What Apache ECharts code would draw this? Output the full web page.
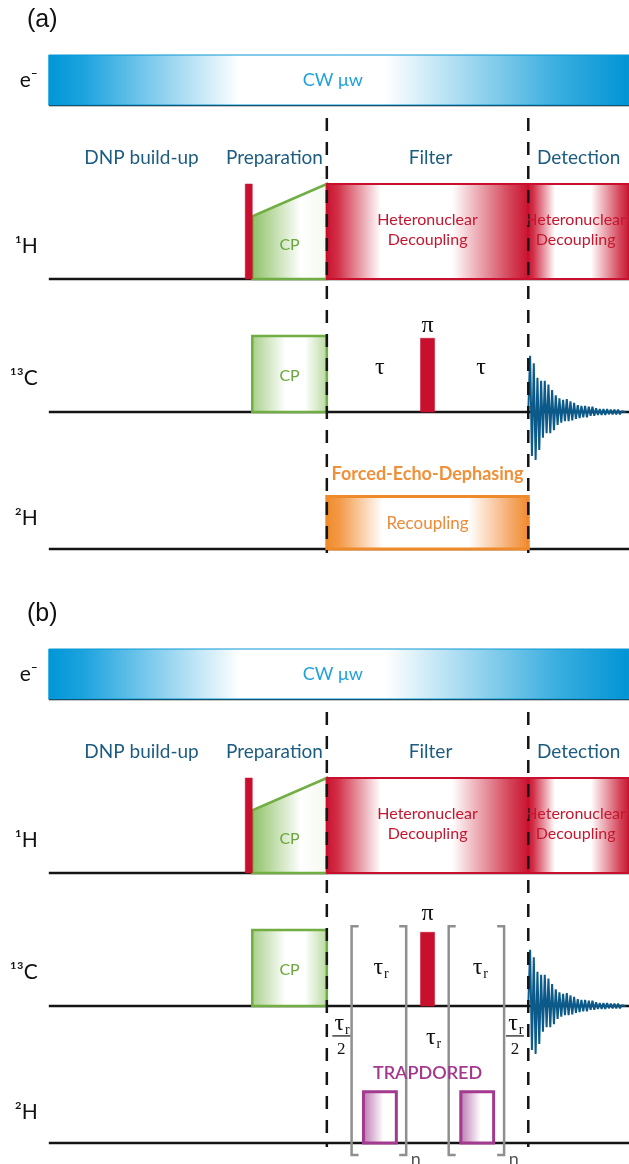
<!DOCTYPE html>
<html>
<head>
<meta charset="utf-8">
<title>DNP pulse sequences with deuterium filters</title>
<script src="https://cdn.jsdelivr.net/npm/echarts@6.0.0/dist/echarts.min.js"></script>
<style>
  html, body { margin: 0; padding: 0; background: #ffffff; }
  #chart { width: 629px; height: 1164px; }
</style>
</head>
<body>
<div id="chart"></div>
<script>
// ---------- sequence data (time in arbitrary units; the filter block runs 0 -> 100) ----------
const PANEL_NAMES = ['(a)', '(b)'];
const CHANNEL_NAMES = ['e\u207B', '\u00B9H', '\u00B9\u00B3C', '\u00B2H'];
const PHASE_NAMES = ['DNP build-up', 'Preparation', 'Filter', 'Detection'];
const PHASE_LABEL_TIMES = [-92, -26, 51.5, 125];
const PHASE_BOUNDARIES = [0, 100];
const SEQUENCE_SPAN = [-138, 150];

// e- : continuous-wave microwave irradiation
const MW_SPAN = [-138, 150];
const MW_LABEL = 'CW \u03BCw';

// 1H : excitation pulse, ramped CP contact, heteronuclear decoupling
const H1_EXCITATION = [-40.5, -37, 1.0];            // start, end, amplitude
const H1_CP_RAMP = [-37, 0, 0.66, 1.0];              // start, end, amplitude at start, amplitude at end
const H1_DECOUPLING = [[0, 100], [100, 150]];
const H1_DECOUPLING_AMP = 1.0;
const DEC_LABEL = 'Heteronuclear\nDecoupling';
const CP_LABEL = 'CP';

// 13C : CP contact, refocusing pi pulse, detected FID
const C13_CP = [-37, 0, 1.0];
const C13_PI = [46.5, 53.5, 0.97];
const FID_START = 100;
const FID_DWELL = 0.91;
const FID_POINTS = [
  0, 0.74, -0.58, 0.64, -0.63, 0.45, -0.50, 0.41, -0.34, 0.41, -0.28, 0.36, -0.28,
  0.29, -0.24, 0.22, -0.17, 0.18, -0.14, 0.16, -0.12, 0.17, -0.12, 0.14, -0.11,
  0.12, -0.09, 0.09, -0.08, 0.08, -0.07, 0.08, -0.07, 0.07, -0.05, 0.07, -0.05,
  0.05, -0.04, 0.04, -0.04, 0.04, -0.04, 0.04, -0.03, 0.03, -0.03, 0.03, -0.03,
  0.03, -0.03, 0.01, -0.01, 0
];

// 2H : (a) forced-echo-dephasing recoupling block, (b) TRAPDORED pulses inside rotor-period loops
const H2_RECOUPLING = [0, 100, 0.97];
const FED_LABEL = 'Forced-Echo-Dephasing';
const REC_LABEL = 'Recoupling';
const H2_TRAPDORED = [[18.2, 34.5], [66.5, 82.8]];
const H2_TRAPDORED_AMP = 0.95;
const TRAP_LABEL = 'TRAPDORED';
const ROTOR_LOOPS = [[12.3, 39.4], [60.5, 88.0]];

// ---------- layout ----------
const PANEL_TOP = [40, 634];
const PANEL_HEIGHT = 520;
const CH_BASE = [455, 281, 148, 11];   // baseline of each channel, in panel units
const CH_SCALE = [50, 95, 76, 54];     // height of a full-amplitude block
const DASH_RANGE = [442, 7];
const SANS = 'Lato, "Open Sans", "DejaVu Sans", sans-serif';
const SERIF = '"Liberation Serif", "DejaVu Serif", serif';

const lv = (ch, amp) => CH_BASE[ch] + amp * CH_SCALE[ch];
const grad = stops => new echarts.graphic.LinearGradient(0, 0, 1, 0,
  stops.map(([offset, color]) => ({ offset, color })));

const BOX_STYLES = [
  { fill: () => grad([[0, '#0096d8'], [0.06, '#1ca3de'], [0.33, '#ffffff'], [0.58, '#ffffff'], [0.88, '#38addf'], [1, '#0094d6']]), stroke: '#0b98d6', lineWidth: 1 },
  { fill: () => '#c8102e', stroke: '#c8102e', lineWidth: 0.5 },
  { fill: () => grad([[0, '#8cc063'], [0.65, '#ffffff'], [1, '#f3f9ee']]), stroke: '#70ad42', lineWidth: 2.5 },
  { fill: () => grad([[0, '#a6cf88'], [0.45, '#ffffff'], [0.7, '#ffffff'], [1, '#b5d89b']]), stroke: '#70ad42', lineWidth: 2.5 },
  { fill: () => grad([[0, '#c8102e'], [0.06, '#d23048'], [0.27, '#ffffff'], [0.62, '#ffffff'], [0.9, '#d4475b'], [1, '#c8102e']]), stroke: '#c8102e', lineWidth: 2 },
  { fill: () => grad([[0, '#f08a2a'], [0.07, '#f39a48'], [0.28, '#ffffff'], [0.7, '#ffffff'], [0.92, '#f3a561'], [1, '#f08a2a']]), stroke: '#ef8a2b', lineWidth: 3 },
  { fill: () => grad([[0, '#b872ad'], [0.6, '#ffffff'], [1, '#ffffff']]), stroke: '#a23a8f', lineWidth: 3 }
];
const K = { mw: 0, pulse: 1, cpH: 2, cpC: 3, dec: 4, rec: 5, trap: 6 };

function boxData(panel) {
  const d = [];
  d.push([MW_SPAN[0], MW_SPAN[1], 0, 1, 1, K.mw]);
  d.push([H1_CP_RAMP[0], H1_CP_RAMP[1], 1, H1_CP_RAMP[2], H1_CP_RAMP[3], K.cpH]);
  d.push([H1_EXCITATION[0], H1_EXCITATION[1], 1, H1_EXCITATION[2], H1_EXCITATION[2], K.pulse]);
  H1_DECOUPLING.forEach(([a, b]) => d.push([a, b, 1, H1_DECOUPLING_AMP, H1_DECOUPLING_AMP, K.dec]));
  d.push([C13_CP[0], C13_CP[1], 2, C13_CP[2], C13_CP[2], K.cpC]);
  d.push([C13_PI[0], C13_PI[1], 2, C13_PI[2], C13_PI[2], K.pulse]);
  if (panel === 0) {
    d.push([H2_RECOUPLING[0], H2_RECOUPLING[1], 3, H2_RECOUPLING[2], H2_RECOUPLING[2], K.rec]);
  } else {
    H2_TRAPDORED.forEach(([a, b]) => d.push([a, b, 3, H2_TRAPDORED_AMP, H2_TRAPDORED_AMP, K.trap]));
  }
  return d;
}

const TEXT_STYLES = {
  phase: { font: `19px ${SANS}`, fill: '#1c5c80' },
  mw: { font: `18px ${SANS}`, fill: '#1ea2dc' },
  dec: { font: `16px ${SANS}`, fill: '#c4172f', lineHeight: 20 },
  cp: { font: `16px ${SANS}`, fill: '#6aa63c' },
  greek: { font: `24px ${SERIF}`, fill: '#111111' },
  fed: { font: `bold 18px ${SANS}`, fill: '#f0903a' },
  rec: { font: `17px ${SANS}`, fill: '#ee8a38' },
  trap: { font: `600 18px ${SANS}`, fill: '#a3388f' },
  loop: { font: `18px ${SANS}`, fill: '#555555' },
  channel: { font: `21px ${SANS}`, fill: '#111111', align: 'right', dx: -11 }
};

function textData(panel) {
  const t = [];
  PHASE_NAMES.forEach((s, i) => t.push({ x: PHASE_LABEL_TIMES[i], ch: 1, a: 1.27, text: s, style: 'phase' }));
  CHANNEL_NAMES.forEach((s, i) => t.push({ x: SEQUENCE_SPAN[0], ch: i, a: [0.5, 0.34, 0.45, 0.57][i], text: s, style: 'channel' }));
  t.push({ x: 3, ch: 0, a: 0.5, text: MW_LABEL, style: 'mw' });
  t.push({ x: (H1_CP_RAMP[0] + H1_CP_RAMP[1]) / 2, ch: 1, a: 0.36, text: CP_LABEL, style: 'cp' });
  H1_DECOUPLING.forEach(([a, b], i) => t.push({ x: i === 0 ? (a + b) / 2 : 123.5, ch: 1, a: 0.52, text: DEC_LABEL, style: 'dec' }));
  t.push({ x: (C13_CP[0] + C13_CP[1]) / 2, ch: 2, a: 0.48, text: CP_LABEL, style: 'cp' });
  const piT = (C13_PI[0] + C13_PI[1]) / 2;
  if (panel === 0) {
    t.push({ x: piT, ch: 2, a: 1.14, text: '\u03C0', style: 'greek' });
    t.push({ x: 26.3, ch: 2, a: 0.58, text: '\u03C4', style: 'greek' });
    t.push({ x: 76.6, ch: 2, a: 0.58, text: '\u03C4', style: 'greek' });
    t.push({ x: (H2_RECOUPLING[0] + H2_RECOUPLING[1]) / 2, ch: 3, a: 1.39, text: FED_LABEL, style: 'fed' });
    t.push({ x: (H2_RECOUPLING[0] + H2_RECOUPLING[1]) / 2, ch: 3, a: 0.48, text: REC_LABEL, style: 'rec' });
  } else {
    t.push({ x: piT, ch: 2, a: 1.21, text: '\u03C0', style: 'greek' });
    t.push({ x: 25.6, ch: 2, a: 0.5, text: '\u03C4', style: 'taur' });
    t.push({ x: 74.8, ch: 2, a: 0.5, text: '\u03C4', style: 'taur' });
    t.push({ x: 51.6, ch: 2, a: -0.42, text: '\u03C4', style: 'taur' });
    t.push({ x: 7.2, ch: 2, a: -0.42, text: '\u03C4', style: 'frac' });
    t.push({ x: 93.4, ch: 2, a: -0.42, text: '\u03C4', style: 'frac' });
    t.push({ x: 50, ch: 3, a: 1.3, text: TRAP_LABEL, style: 'trap' });
    ROTOR_LOOPS.forEach(([a, b]) => t.push({ x: b + 4.8, ch: 3, a: -0.3, text: 'n', style: 'loop' }));
  }
  return t;
}

function renderBaseline(params, api) {
  const ch = api.value(2);
  const p0 = api.coord([api.value(0), lv(ch, 0)]);
  const p1 = api.coord([api.value(1), lv(ch, 0)]);
  return { type: 'line', shape: { x1: p0[0], y1: p0[1], x2: p1[0], y2: p1[1] },
    style: { stroke: '#141414', lineWidth: 2.5 } };
}

function renderBox(params, api) {
  const t0 = api.value(0), t1 = api.value(1), ch = api.value(2);
  const aL = api.value(3), aR = api.value(4), st = BOX_STYLES[api.value(5)];
  const pts = [[t0, lv(ch, 0)], [t0, lv(ch, aL)], [t1, lv(ch, aR)], [t1, lv(ch, 0)]].map(p => api.coord(p));
  return { type: 'polygon', shape: { points: pts },
    style: { fill: st.fill(), stroke: st.stroke, lineWidth: st.lineWidth, lineJoin: 'miter' } };
}

function renderDash(params, api) {
  const p0 = api.coord([api.value(0), DASH_RANGE[0]]);
  const p1 = api.coord([api.value(0), DASH_RANGE[1]]);
  return { type: 'line', shape: { x1: p0[0], y1: p0[1], x2: p1[0], y2: p1[1] },
    style: { stroke: '#151515', lineWidth: 2.5, lineDash: [13, 11] } };
}

function renderLoop(params, api) {
  const top = lv(2, 1.05), bottom = lv(3, -0.22);
  const l0 = api.coord([api.value(0), top]), l1 = api.coord([api.value(0), bottom]);
  const r0 = api.coord([api.value(1), top]), r1 = api.coord([api.value(1), bottom]);
  const s = 7;
  const st = { stroke: '#8f8f8f', lineWidth: 2.5, fill: null };
  return { type: 'group', children: [
    { type: 'polyline', shape: { points: [[l0[0] + s, l0[1]], l0, l1, [l1[0] + s, l1[1]]] }, style: st },
    { type: 'polyline', shape: { points: [[r0[0] - s, r0[1]], r0, r1, [r1[0] - s, r1[1]]] }, style: st }
  ] };
}

function makeTextRenderer(list) {
  return function (params, api) {
    const o = list[params.dataIndex];
    const p = api.coord([api.value(0), api.value(1)]);
    const greek = TEXT_STYLES.greek;
    const sub = { font: `14px ${SERIF}`, fill: '#111111', align: 'center', verticalAlign: 'middle' };
    if (o.style === 'taur') {
      return { type: 'group', x: p[0], y: p[1], children: [
        { type: 'text', x: 0, y: 0, style: { text: o.text, font: greek.font, fill: greek.fill, align: 'center', verticalAlign: 'middle' } },
        { type: 'text', x: 8, y: 6, style: Object.assign({ text: 'r' }, sub) }
      ] };
    }
    if (o.style === 'frac') {
      return { type: 'group', x: p[0], y: p[1], children: [
        { type: 'text', x: -2, y: -14, style: { text: o.text, font: greek.font, fill: greek.fill, align: 'center', verticalAlign: 'middle' } },
        { type: 'text', x: 6, y: -8, style: Object.assign({ text: 'r' }, sub) },
        { type: 'line', shape: { x1: -9, y1: -2, x2: 9, y2: -2 }, style: { stroke: '#111111', lineWidth: 1.2 } },
        { type: 'text', x: 0, y: 12, style: { text: '2', font: `17px ${SERIF}`, fill: '#111111', align: 'center', verticalAlign: 'middle' } }
      ] };
    }
    const st = TEXT_STYLES[o.style];
    return { type: 'text', x: p[0] + (st.dx || 0), y: p[1],
      style: { text: o.text, font: st.font, fill: st.fill, align: st.align || 'center',
        verticalAlign: 'middle', lineHeight: st.lineHeight } };
  };
}

// ---------- chart ----------
const grids = [], xAxes = [], yAxes = [], series = [], graphics = [];
PANEL_NAMES.forEach((name, p) => {
  grids.push({ left: 4.5, width: 628, top: PANEL_TOP[p], height: PANEL_HEIGHT });
  xAxes.push({ type: 'value', gridIndex: p, min: -160, max: 150, show: false });
  yAxes.push({ type: 'value', gridIndex: p, min: 0, max: PANEL_HEIGHT, show: false });
  const common = { xAxisIndex: p, yAxisIndex: p, silent: true, clip: false, animation: false };

  series.push(Object.assign({ type: 'custom', z: 1, renderItem: renderBaseline,
    data: CHANNEL_NAMES.map((_, i) => [SEQUENCE_SPAN[0], SEQUENCE_SPAN[1], i]) }, common));
  series.push(Object.assign({ type: 'custom', z: 2, renderItem: renderBox, data: boxData(p) }, common));
  series.push(Object.assign({ type: 'line', z: 3, showSymbol: false, symbol: 'none',
    lineStyle: { color: '#0c5a8a', width: 2 },
    data: FID_POINTS.map((a, i) => [FID_START + i * FID_DWELL, lv(2, a)]) }, common));
  if (p === 1) {
    series.push(Object.assign({ type: 'custom', z: 3, renderItem: renderLoop, data: ROTOR_LOOPS }, common));
  }
  series.push(Object.assign({ type: 'custom', z: 4, renderItem: renderDash,
    data: PHASE_BOUNDARIES.map(t => [t]) }, common));
  const texts = textData(p);
  series.push(Object.assign({ type: 'custom', z: 5, renderItem: makeTextRenderer(texts),
    data: texts.map(o => [o.x, lv(o.ch, o.a)]) }, common));

  graphics.push({ type: 'text', left: 27, top: PANEL_TOP[p] - 32,
    style: { text: name, font: '25px "Liberation Sans", Arial, sans-serif', fill: '#111111' } });
});

const chart = echarts.init(document.getElementById('chart'));
chart.setOption({
  animation: false,
  backgroundColor: '#ffffff',
  grid: grids,
  xAxis: xAxes,
  yAxis: yAxes,
  graphic: graphics,
  series: series
});
</script>
</body>
</html>
